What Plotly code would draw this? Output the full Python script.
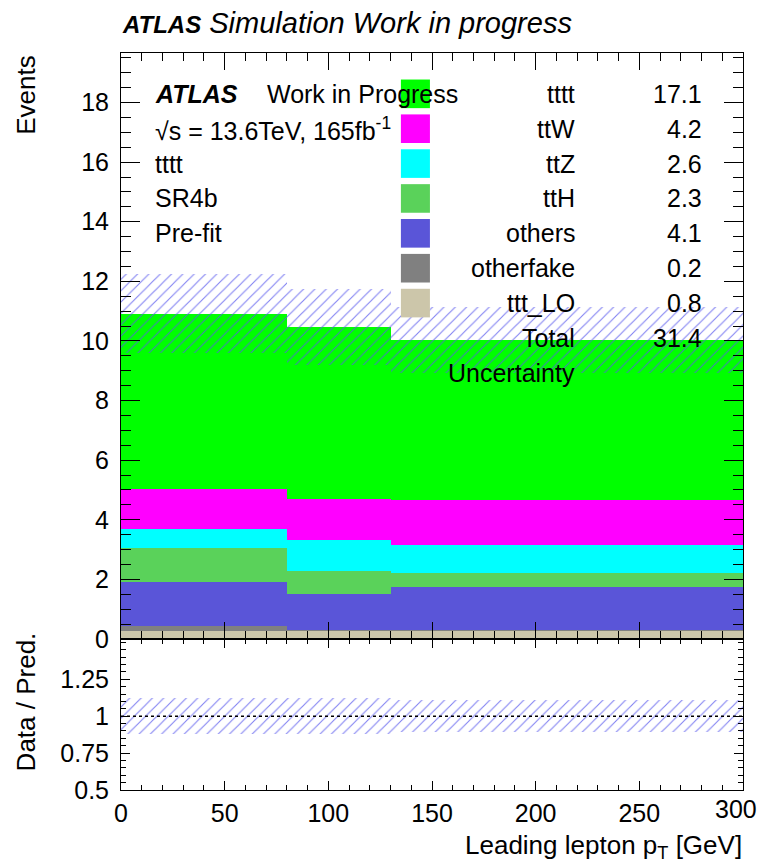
import plotly.graph_objects as go

# ---- data ----
bin_edges = [0, 80, 130, 300]
samples = ["ttt_LO", "otherfake", "others", "ttH", "ttZ", "ttW", "tttt"]
colors = {"ttt_LO": "#ccc6aa", "otherfake": "#808080", "others": "#5a55d8",
          "ttH": "#5ad25a", "ttZ": "#00ffff", "ttW": "#ff00ff", "tttt": "#00ff00"}
yields = {
    "ttt_LO":    [0.27, 0.27, 0.27],
    "otherfake": [0.17, 0.02, 0.02],
    "others":    [1.48, 1.23, 1.45],
    "ttH":       [1.12, 0.76, 0.49],
    "ttZ":       [0.64, 1.03, 0.91],
    "ttW":       [1.34, 1.38, 1.51],
    "tttt":      [5.90, 5.78, 5.38],
}
unc = [1.33, 1.28, 1.10]
legend_order = ["tttt", "ttW", "ttZ", "ttH", "others", "otherfake", "ttt_LO"]
legend_values = ["17.1", "4.2", "2.6", "2.3", "4.1", "0.2", "0.8"]
total_text = "31.4"
info_lines = ["tttt", "SR4b", "Pre-fit"]
x_ticks = [0, 50, 100, 150, 200, 250, 300]

FONT = "Liberation Sans, Arial, Helvetica, sans-serif"
FS = 25
TFS = 26

centers = [(bin_edges[i] + bin_edges[i + 1]) / 2 for i in range(3)]
widths = [bin_edges[i + 1] - bin_edges[i] for i in range(3)]
totals = [sum(yields[s][i] for s in samples) for i in range(3)]

fig = go.Figure()
for s in samples:
    fig.add_trace(go.Bar(x=centers, y=yields[s], width=widths, marker_color=colors[s],
                         marker_line_width=0, name=s, showlegend=False,
                         xaxis="x", yaxis="y"))

hatch = dict(shape="/", fgcolor="#5858ee", fgopacity=0.75, bgcolor="rgba(0,0,0,0)",
             size=8, solidity=0.14)
fig.add_trace(go.Bar(x=centers, y=[2 * u for u in unc], base=[t - u for t, u in zip(totals, unc)],
                     width=widths, marker=dict(color="rgba(0,0,0,0)", line_width=0, pattern=hatch),
                     showlegend=False, xaxis="x", yaxis="y"))

rel = [u / t for u, t in zip(unc, totals)]
fig.add_trace(go.Bar(x=centers, y=[2 * r for r in rel], base=[1 - r for r in rel],
                     width=widths, marker=dict(color="rgba(0,0,0,0)", line_width=0, pattern=hatch),
                     showlegend=False, xaxis="x2", yaxis="y2"))

fig.add_shape(type="line", x0=0, x1=300, y0=1, y1=1, xref="x2", yref="y2",
              line=dict(color="black", width=1.5, dash="3px,3px"))

# legend boxes and texts
row_y0 = 18.29
dy = 1.17
for k, s in enumerate(legend_order):
    yc = row_y0 - k * dy
    fig.add_shape(type="rect", x0=135.0, x1=149.0, y0=yc - 0.48, y1=yc + 0.48,
                  xref="x", yref="y", fillcolor=colors[s], line_width=0)
    fig.add_annotation(x=220, y=yc, xref="x", yref="y", text=s, showarrow=False,
                       xanchor="right", yanchor="middle", font=dict(size=FS, color="black", family=FONT))
    fig.add_annotation(x=281.2, y=yc, xref="x", yref="y", text=legend_values[k], showarrow=False,
                       xanchor="right", yanchor="middle", font=dict(size=FS, color="black", family=FONT))
k = len(legend_order)
fig.add_annotation(x=220, y=row_y0 - k * dy, xref="x", yref="y", text="Total", showarrow=False,
                   xanchor="right", yanchor="middle", font=dict(size=FS, color="black", family=FONT))
fig.add_annotation(x=281.2, y=row_y0 - k * dy, xref="x", yref="y", text=total_text, showarrow=False,
                   xanchor="right", yanchor="middle", font=dict(size=FS, color="black", family=FONT))
fig.add_annotation(x=220, y=row_y0 - (k + 1) * dy, xref="x", yref="y", text="Uncertainty", showarrow=False,
                   xanchor="right", yanchor="middle", font=dict(size=FS, color="black", family=FONT))

# left info block
fig.add_annotation(x=15.4, y=row_y0, xref="x", yref="y", text="<b><i>ATLAS</i></b>", showarrow=False,
                   xanchor="left", yanchor="middle", font=dict(size=FS, color="black", family=FONT))
fig.add_annotation(x=69.5, y=row_y0, xref="x", yref="y", text="Work in Progress", showarrow=False,
                   xanchor="left", yanchor="middle", font=dict(size=FS, color="black", family=FONT))
fig.add_annotation(x=15.4, y=row_y0 - dy, xref="x", yref="y", text="√s = 13.6TeV, 165fb<sup>-1</sup>",
                   showarrow=False, xanchor="left", yanchor="middle",
                   font=dict(size=FS, color="black", family=FONT))
for j, t in enumerate(info_lines):
    fig.add_annotation(x=15.4, y=row_y0 - (j + 2) * dy, xref="x", yref="y", text=t, showarrow=False,
                       xanchor="left", yanchor="middle", font=dict(size=FS, color="black", family=FONT))

# last x tick label (would be hidden by plotly because it overflows the div)
fig.add_annotation(x=x_ticks[-1], y=-0.026, xref="x2", yref="paper", text=str(x_ticks[-1]),
                   showarrow=False, xanchor="right", yanchor="middle", xshift=15, borderpad=0,
                   font=dict(size=FS, color="black", family=FONT))

# titles
fig.add_annotation(x=0.0, y=1.041, xref="paper", yref="paper", yanchor="middle", xanchor="left",
                   text="<b><i>ATLAS</i></b><i><span style='font-size:29px'> Simulation Work in progress</span></i>",
                   showarrow=False, borderpad=0,
                   font=dict(size=24, color="black", family=FONT))
fig.add_annotation(x=-0.153, y=1.0, xref="paper", yref="paper", xanchor="center", yanchor="top",
                   text="Events", textangle=-90, showarrow=False,
                   font=dict(size=TFS, color="black", family=FONT))
fig.add_annotation(x=-0.153, y=0.12, xref="paper", yref="paper", xanchor="center", yanchor="middle",
                   text="Data / Pred.", textangle=-90, showarrow=False,
                   font=dict(size=TFS, color="black", family=FONT))
fig.add_annotation(x=1.0, y=-0.076, xref="paper", yref="paper", xanchor="right", yanchor="middle",
                   text="Leading lepton p<sub>T</sub> [GeV]", showarrow=False, borderpad=0,
                   font=dict(size=TFS, color="black", family=FONT))

axis_common = dict(showline=True, linecolor="black", linewidth=1, mirror="allticks",
                   ticks="inside", tickcolor="black", showgrid=False, zeroline=False,
                   tickfont=dict(size=FS, color="black", family=FONT))
ratio_split = (790 - 639) / 737

# page has an 8px body margin: figure is 16px smaller and offset by 8px
fig.update_layout(
    width=750, height=851, barmode="stack", bargap=0,
    paper_bgcolor="white", plot_bgcolor="white",
    margin=dict(l=113, r=15, t=45, b=69),
    font=dict(family=FONT, color="black"),
    xaxis=dict(domain=[0, 1], range=[0, 300], anchor="y", showticklabels=False,
               dtick=50, tick0=0, ticklen=17,
               minor=dict(ticks="inside", dtick=10, ticklen=8, tickcolor="black"), **axis_common),
    yaxis=dict(domain=[ratio_split, 1], range=[0, 19.66], anchor="x",
               tickvals=list(range(0, 19, 2)), ticklen=19, ticklabelstandoff=6,
               minor=dict(ticks="inside", dtick=0.5, ticklen=10, tickcolor="black"), **axis_common),
    xaxis2=dict(domain=[0, 1], range=[0, 300], anchor="y2", tickvals=x_ticks[:-1], ticklen=9,
                ticklabelstandoff=1,
                minor=dict(ticks="inside", dtick=10, ticklen=5, tickcolor="black"), **axis_common),
    yaxis2=dict(domain=[0, ratio_split], range=[0.5, 1.523], anchor="x2",
                tickvals=[0.5, 0.75, 1, 1.25], ticktext=["0.5", "0.75", "1", "1.25"],
                ticklen=9, ticklabelstandoff=6,
                minor=dict(ticks="inside", dtick=0.05, ticklen=5, tickcolor="black"), **axis_common),
)

fig.write_html("out.html")
